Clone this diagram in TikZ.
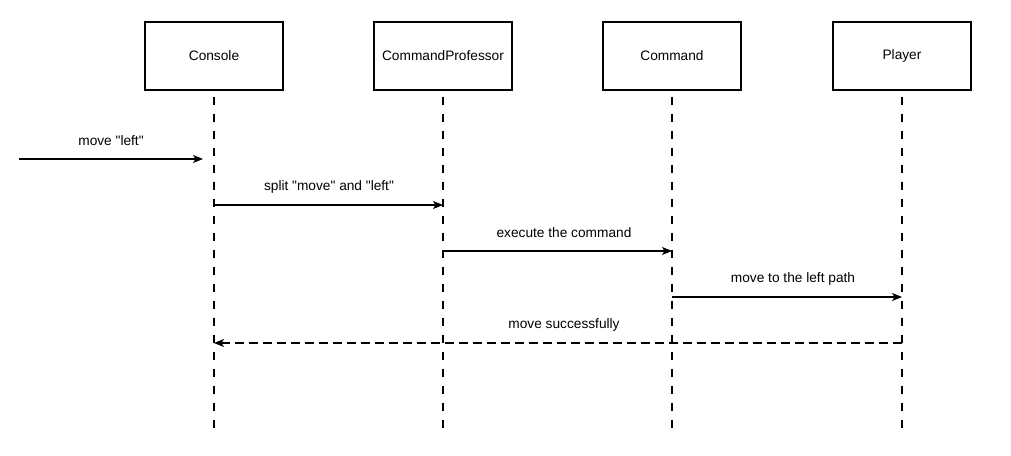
\documentclass[tikz,border=0pt]{standalone}
\usepackage{fontspec}
\setmainfont{Liberation Sans}
\usetikzlibrary{arrows.meta,calc}
\begin{document}
\begin{tikzpicture}[x=1pt,y=-1pt,
  every node/.style={font=\fontsize{13.7}{16}\selectfont},
  actor/.style={draw, line width=1.1pt, minimum width=138pt, minimum height=68pt, inner sep=0pt},
  lifeline/.style={line width=1.1pt, dash pattern=on 8pt off 9pt, dash phase=11pt},
  msg/.style={line width=1.1pt, -{Stealth[length=10pt,width=8pt,inset=2.5pt]}},
  reply/.style={msg, dash pattern=on 9pt off 5pt},
  lbl/.style={inner sep=0pt}]
\useasboundingbox (0,0) rectangle (1011,455);
\fill[white] (0,0) rectangle (1011,455);
% actors
\node[actor] (con) at (214,56) {Console};
\node[actor] (cp) at (443,56) {CommandProfessor};
\node[actor] (cmd) at (672,56) {Command};
\node[actor] (pl) at (902,56) {Player};
% lifeline ends
\coordinate (conE) at (214,436);
\coordinate (cpE) at (443,436);
\coordinate (cmdE) at (672,436);
\coordinate (plE) at (902,436);
\draw[lifeline] (con.south) -- (conE);
\draw[lifeline] (cp.south) -- (cpE);
\draw[lifeline] (cmd.south) -- (cmdE);
\draw[lifeline] (pl.south) -- (plE);
% messages
\coordinate (m1s) at (19,159);
\coordinate (m1e) at (203,159);
\draw[msg] (m1s) -- (m1e);
\node[lbl] (l1) at (111,141) {move \textquotedbl left\textquotedbl};
\coordinate (m2) at (0,205);
\draw[msg] (m2 -| con) -- (m2 -| cp);
\node[lbl] (l2) at (329,187) {split \textquotedbl move\textquotedbl{} and \textquotedbl left\textquotedbl};
\coordinate (m3) at (0,251);
\draw[msg] (m3 -| cp) -- (m3 -| cmd);
\node[lbl] (l3) at (564,233) {execute the command};
\coordinate (m4) at (0,297);
\draw[msg] (m4 -| cmd) -- (m4 -| pl);
\node[lbl] (l4) at (793,279) {move to the left path};
\coordinate (m5) at (0,343);
\draw[reply] (m5 -| pl) -- (m5 -| con);
\node[lbl] (l5) at (564,325) {move successfully};
\end{tikzpicture}
\end{document}
